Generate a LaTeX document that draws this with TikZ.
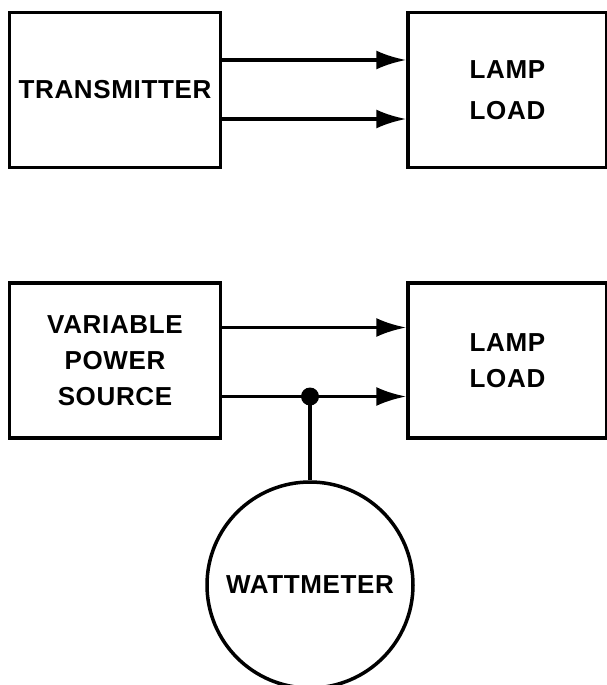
\documentclass[tikz,border=0pt]{standalone}
\usepackage{fontspec}
\newfontfamily\blockfont{Liberation Sans}[LetterSpace=2.5]
\usetikzlibrary{arrows.meta, positioning}

\begin{document}
\begin{tikzpicture}[
    x=1pt, y=-1pt,
    line width=3.5pt,
    node distance=112pt and 184pt,
    block/.style = {rectangle, draw, line width=3.5pt, inner sep=0pt,
                    minimum width=211pt, minimum height=155pt,
                    align=center, font=\blockfont\bfseries\fontsize{26}{36}\selectfont},
    load/.style  = {block, minimum width=199pt},
    meter/.style = {circle, draw, line width=3.5pt, inner sep=0pt,
                    minimum size=206pt, font=\blockfont\bfseries\fontsize{26}{36}\selectfont},
    arrow/.style = {-{Latex[length=30pt, width=19pt]}, line width=3.5pt}
]
\useasboundingbox (0,0) rectangle (606,685);

% ========= first set-up =========
\node[block]               (tx)    at (115,90) {TRANSMITTER};
\node[load, right=of tx]   (lamp1) {LAMP\\[5pt]LOAD};

\coordinate (a1) at ([yshift=30pt]tx.east);
\coordinate (a2) at ([yshift=-29pt]tx.east);
\draw[arrow] (a1) -- (a1 -| lamp1.west);
\draw[arrow] (a2) -- (a2 -| lamp1.west);

% ========= second set-up =========
\node[block, below=of tx]   (vps)   {VARIABLE\\POWER\\SOURCE};
\node[load, right=of vps]   (lamp2) {LAMP\\LOAD};
\node[meter]                (watt)  at (310,585) {WATTMETER};

\coordinate (a3) at ([yshift=33pt]vps.east);
\coordinate (a4) at ([yshift=-36pt]vps.east);
\coordinate (tap) at (watt.north |- a4);
\draw[arrow] (a3) -- (a3 -| lamp2.west);
\draw[arrow] (a4) -- (a4 -| lamp2.west);
\draw (tap) -- (watt.north);
\fill (tap) circle (9pt);
\end{tikzpicture}
\end{document}
